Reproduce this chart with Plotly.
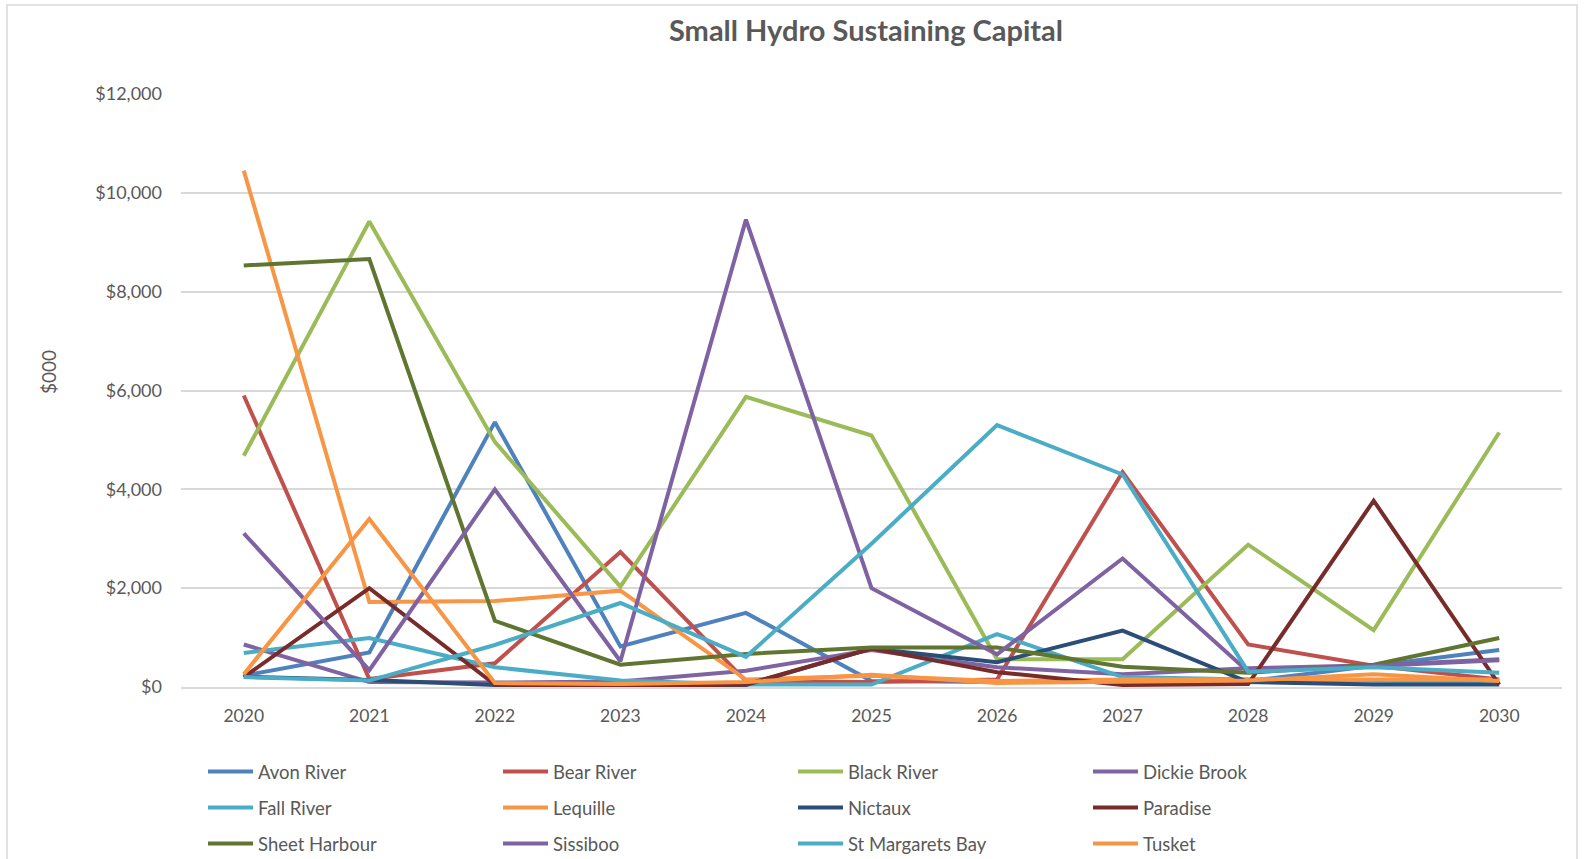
import plotly.graph_objects as go

years = ["2020", "2021", "2022", "2023", "2024", "2025", "2026", "2027", "2028", "2029", "2030"]

avon_river = [230, 700, 5360, 820, 1500, 120, 100, 100, 120, 430, 750]
bear_river = [5900, 160, 480, 2730, 120, 100, 150, 4350, 860, 430, 150]
black_river = [4680, 9420, 4960, 2030, 5870, 5090, 560, 560, 2880, 1150, 5150]
dickie_brook = [860, 100, 90, 110, 330, 750, 400, 260, 380, 440, 560]
fall_river = [690, 990, 400, 130, 50, 50, 1070, 200, 150, 120, 100]
lequille = [10450, 1720, 1740, 1950, 150, 230, 120, 150, 150, 150, 150]
nictaux = [210, 140, 40, 40, 40, 780, 500, 1140, 100, 50, 50]
paradise = [200, 2000, 50, 20, 50, 780, 300, 40, 60, 3770, 50]
sheet_harbour = [8530, 8660, 1340, 450, 670, 800, 800, 410, 290, 450, 990]
sissiboo = [3110, 340, 4000, 520, 9460, 2000, 660, 2600, 310, 420, 540]
st_margarets_bay = [200, 130, 850, 1700, 610, 2900, 5300, 4300, 310, 400, 290]
tusket = [260, 3400, 80, 60, 100, 250, 80, 100, 130, 260, 120]

y_ticks = [0, 2000, 4000, 6000, 8000, 10000, 12000]
y_tick_text = ["$0", "$2,000", "$4,000", "$6,000", "$8,000", "$10,000", "$12,000"]

series = [
    ("Avon River", avon_river, "#4F81BD", "legend"),
    ("Bear River", bear_river, "#C0504D", "legend"),
    ("Black River", black_river, "#9BBB59", "legend"),
    ("Dickie Brook", dickie_brook, "#8064A2", "legend"),
    ("Fall River", fall_river, "#4BACC6", "legend2"),
    ("Lequille", lequille, "#F79646", "legend2"),
    ("Nictaux", nictaux, "#2C4D75", "legend2"),
    ("Paradise", paradise, "#772C2A", "legend2"),
    ("Sheet Harbour", sheet_harbour, "#5F7530", "legend3"),
    ("Sissiboo", sissiboo, "#7E62A1", "legend3"),
    ("St Margarets Bay", st_margarets_bay, "#4AACC5", "legend3"),
    ("Tusket", tusket, "#F79545", "legend3"),
]

FONT = "Lato, Noto Sans, sans-serif"
GREY = "#595959"

fig = go.Figure()
for name, vals, color, leg in series:
    fig.add_trace(go.Scatter(
        x=years, y=vals, name=name, mode="lines",
        line=dict(color=color, width=4),
        legend=leg,
    ))

W, H = 1585, 859
ml, mr, mt, mb = 181, 23, 94, 172
pw = W - ml - mr
ph = H - mt - mb

def px_to_paper_x(px):
    return (px - ml) / pw

def px_to_paper_y(py):
    return (H - mb - py) / ph

leg_common = dict(
    orientation="h",
    xanchor="left",
    yanchor="middle",
    entrywidth=235,
    entrywidthmode="pixels",
    itemwidth=45,
    font=dict(family=FONT, size=18.5, color=GREY),
    bgcolor="rgba(0,0,0,0)",
    borderwidth=0,
    tracegroupgap=0,
)

lx = px_to_paper_x(203)
fig.update_layout(
    width=W, height=H,
    margin=dict(l=ml, r=mr, t=mt, b=mb, pad=0, autoexpand=False),
    paper_bgcolor="white",
    plot_bgcolor="white",
    font=dict(family=FONT, color=GREY),
    title=dict(
        text="<b>Small Hydro Sustaining Capital</b>",
        x=px_to_paper_x(866), xref="paper", xanchor="center",
        y=1 - 31 / H, yref="container", yanchor="middle",
        font=dict(family=FONT, size=29, color=GREY),
    ),
    xaxis=dict(
        type="category",
        range=[-0.5, 10.5],
        showgrid=False,
        showline=True, linecolor="#D9D9D9", linewidth=1.5,
        ticks="",
        tickfont=dict(family=FONT, size=17.5, color=GREY),
        ticklabelstandoff=12,
        fixedrange=True,
    ),
    yaxis=dict(
        range=[0, 12000],
        tickvals=y_ticks,
        ticktext=y_tick_text,
        showgrid=True, gridcolor="#D9D9D9", gridwidth=1.5,
        zeroline=False,
        showline=False,
        ticks="",
        tickfont=dict(family=FONT, size=18, color=GREY),
        ticklabelstandoff=18,
        fixedrange=True,
    ),
    annotations=[dict(
        text="$000", textangle=-90,
        xref="paper", yref="paper",
        x=px_to_paper_x(48), y=px_to_paper_y(372),
        xanchor="center", yanchor="middle",
        showarrow=False,
        font=dict(family=FONT, size=19, color=GREY),
    )],
    legend=dict(x=lx, y=px_to_paper_y(772), **leg_common),
    legend2=dict(x=lx, y=px_to_paper_y(808), **leg_common),
    legend3=dict(x=lx, y=px_to_paper_y(844), **leg_common),
    shapes=[dict(
        type="rect", xref="paper", yref="paper",
        x0=px_to_paper_x(7), x1=px_to_paper_x(1577),
        y0=px_to_paper_y(900), y1=px_to_paper_y(5),
        line=dict(color="#D9D9D9", width=1.5),
        fillcolor="rgba(0,0,0,0)", layer="below",
    )],
)

fig.write_html("out.html")
